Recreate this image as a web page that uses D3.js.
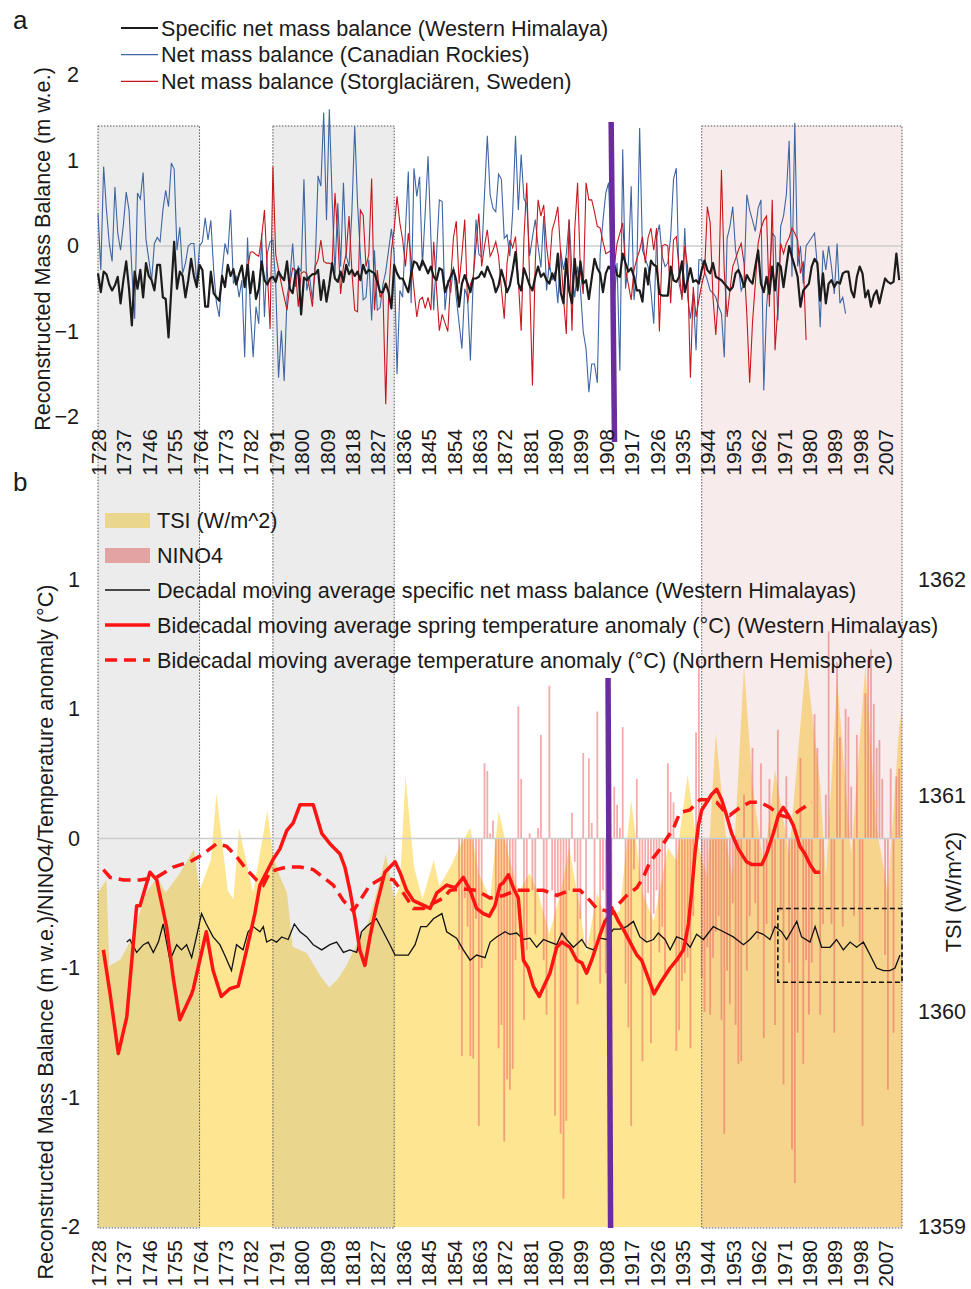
<!DOCTYPE html>
<html><head><meta charset="utf-8">
<script src="https://cdn.jsdelivr.net/npm/d3@7"></script>
<style>
body{margin:0;background:#fff}
svg{display:block}
text{font-family:"Liberation Sans",Arial,Helvetica,sans-serif;fill:#1a1a1a}
</style>
</head><body>
<svg id="c" width="971" height="1289"></svg>
<script>
// ---------------- DATA ----------------
const yearStart = 1728, yearEnd = 2013;
const xTickYears = d3.range(1728, 2008, 9);
const yTicksA = [-2, -1, 0, 1, 2];
const yTicksB = [-1.5, -1, -0.5, 0, 0.5, 1];
const yTicksTSI = [1359, 1360, 1361, 1362];

// Panel a: specific net mass balance, Western Himalaya (1728-2012)
const himStart = 1728;
const himVals = [
-0.32,-0.54,-0.30,-0.33,-0.45,-0.52,-0.46,-0.36,-0.67,-0.40,
-0.18,-0.50,-0.93,-0.30,-0.50,-0.28,-0.60,-0.20,-0.35,-0.40,
-0.52,-0.22,-0.22,-0.60,-0.62,-1.07,-0.50,0.05,-0.50,-0.30,
-0.35,-0.60,-0.40,-0.15,-0.35,-0.48,-0.22,-0.28,-0.71,-0.71,
-0.30,-0.55,-0.60,-0.64,-0.35,-0.48,-0.22,-0.35,-0.27,-0.45,
-0.33,-0.23,-0.48,-0.22,-0.55,-0.30,-0.62,-0.50,-0.18,-0.40,
-0.45,-0.38,-0.36,-0.42,-0.30,-0.36,-0.40,-0.18,-0.50,-0.55,
-0.33,-0.27,-0.80,-0.37,-0.40,-0.36,-0.33,-0.33,-0.28,-0.63,
-0.40,-0.65,-0.45,-0.20,-0.38,-0.42,-0.30,-0.42,-0.22,-0.33,
-0.28,-0.35,-0.30,-0.40,-0.22,-0.32,-0.28,-0.30,-0.32,-0.42,
-0.54,-0.54,-0.44,-0.54,-0.73,-0.22,-0.32,-0.38,-0.38,-0.46,
-0.54,-0.32,-0.18,-0.20,-0.28,-0.17,-0.24,-0.32,-0.24,-0.36,
-0.40,-0.26,-0.28,-0.54,-0.44,-0.36,-0.28,-0.40,-0.71,-0.44,
-0.34,-0.44,-0.54,-0.38,-0.38,-0.36,-0.30,-0.36,-0.24,-0.32,
-0.40,-0.54,-0.46,-0.28,-0.40,-0.54,-0.46,-0.28,-0.07,-0.44,
-0.52,-0.26,-0.36,-0.46,-0.52,-0.36,-0.24,-0.36,-0.32,-0.40,
-0.44,-0.32,-0.40,-0.09,-0.54,-0.67,-0.15,-0.52,-0.67,-0.15,
-0.52,-0.18,-0.44,-0.40,-0.62,-0.38,-0.15,-0.26,-0.32,-0.54,
-0.32,-0.24,-0.28,-0.22,-0.34,-0.36,-0.09,-0.20,-0.30,-0.26,
-0.36,-0.52,-0.52,-0.65,-0.26,-0.45,-0.17,-0.22,-0.24,-0.56,
-0.58,-0.58,-0.58,-0.24,-0.40,-0.42,-0.36,-0.18,-0.54,-0.40,
-0.26,-0.42,-0.40,-0.44,-0.28,-0.17,-0.28,-0.32,-0.20,-0.36,
-0.38,-0.40,-0.44,-0.48,-0.52,-0.48,-0.32,-0.28,-0.36,-0.48,
-0.34,-0.40,-0.44,-0.24,-0.05,-0.44,-0.54,-0.36,-0.56,-0.24,
-0.52,-0.20,-0.24,-0.48,-0.24,0.00,-0.13,-0.24,-0.36,-0.71,
-0.52,-0.48,-0.44,-0.24,-0.15,-0.20,-0.64,-0.32,-0.67,-0.44,
-0.40,-0.48,-0.42,-0.44,-0.32,-0.30,-0.30,-0.52,-0.60,-0.36,
-0.24,-0.32,-0.60,-0.52,-0.71,-0.58,-0.52,-0.67,-0.52,-0.38,
-0.42,-0.44,-0.42,-0.09,-0.40
];

// Panel a: net mass balance, Canadian Rockies (1728-1993)
const canStart = 1728;
const canVals = [
0.38,-0.28,0.93,0.42,0.03,-0.18,0.69,0.15,-0.05,0.25,
0.63,0.42,-0.28,-0.85,0.62,0.55,0.86,0.08,-0.16,-0.40,
0.03,0.10,0.05,0.42,0.65,0.46,0.97,0.90,-0.05,0.22,
-0.32,-0.20,0.00,0.03,0.03,-0.44,0.00,0.05,0.33,0.07,
0.30,-0.28,-0.67,-0.83,-0.30,0.03,-0.10,0.42,-0.44,-0.36,
-0.60,-0.40,-1.30,0.10,-0.75,-1.30,-0.71,-0.91,0.15,-0.83,
-0.09,0.05,0.07,-0.45,-1.54,-0.99,-1.58,-0.60,-0.40,0.03,
-0.48,-0.24,-0.30,0.78,-0.52,-0.36,-0.63,-0.20,0.82,0.70,
1.56,0.30,1.60,0.55,-0.32,0.50,-0.24,0.74,-0.12,-0.24,
0.40,1.40,0.50,-0.10,-0.63,-0.60,-0.16,-0.87,-0.05,-0.75,
-0.72,-0.45,-0.30,-0.05,0.20,-0.10,-1.50,-0.52,-0.60,0.20,
0.87,-0.67,0.91,0.58,0.81,-0.24,0.40,1.05,0.10,-0.75,
-0.10,0.54,0.52,-0.75,-0.40,-0.55,-0.24,-0.60,-0.90,-1.20,
-0.50,-0.60,-1.34,-0.40,0.31,-0.10,-0.13,0.60,1.29,0.60,
0.44,0.40,0.84,0.78,0.09,0.13,-0.12,0.40,1.29,0.42,
1.07,0.55,0.49,-0.12,0.10,0.31,0.00,-0.25,0.35,-0.52,
-0.20,-0.40,-0.30,-0.67,-0.05,-0.28,-0.10,0.31,-0.30,-0.60,
-0.24,-0.50,-1.00,-1.20,-1.71,-1.38,-1.38,-1.60,-0.10,0.30,
0.62,0.74,-0.20,-0.63,-0.20,-1.46,1.13,-0.50,-0.20,0.70,
-0.63,-0.30,1.38,-0.05,-0.15,-0.24,-0.52,-0.91,0.10,0.25,
-0.12,-0.24,-0.20,0.11,0.78,0.91,-0.44,-0.60,0.21,-0.60,
-0.85,-0.56,-1.22,-0.16,-0.16,-0.30,-0.40,-0.52,-0.55,-0.60,
-0.71,-0.79,-1.30,0.09,0.23,0.46,-0.05,-0.24,-0.52,-0.44,
0.60,0.42,0.30,0.17,0.44,0.54,-1.69,-0.71,-0.30,0.15,
0.11,-0.87,0.23,0.35,0.60,1.23,-0.36,1.44,-0.24,0.00,
-0.44,0.00,0.05,0.10,0.15,-0.24,-0.95,-0.05,-0.28,0.00,
-0.24,-0.56,0.03,-0.67,-0.60,-0.79
];

// Panel a: net mass balance, Storglaciären (1781-1979)
const stoStart = 1781;
const stoVals = [
-0.28,-0.07,-0.07,-0.10,-0.12,0.10,0.42,-0.28,-0.97,0.93,
-0.10,-0.28,-0.44,-0.60,-0.75,-0.45,-0.26,-0.28,-0.71,-0.32,
-0.30,-0.32,-0.50,-0.71,-0.24,-0.16,0.07,-0.18,-0.20,-0.20,
-0.22,0.62,0.11,-0.56,-0.24,-0.08,0.35,-0.30,-0.75,-0.77,
0.42,0.36,-0.24,-0.10,0.79,-0.75,-0.28,-0.60,-0.52,-1.85,
-0.60,-0.05,0.20,0.58,0.27,0.07,-0.24,0.15,-0.16,-0.50,
-0.83,-0.63,-0.60,-0.73,-0.60,-0.75,0.05,-0.50,-0.99,-0.80,
-0.90,-1.00,-0.40,0.10,0.29,-0.44,-0.10,0.31,-0.67,-0.45,
-0.36,0.00,0.38,-0.24,0.00,0.19,-0.12,-0.05,0.05,-0.12,
-0.50,-0.85,-0.20,0.07,-0.02,0.11,-0.40,-0.99,0.10,0.74,
-0.40,-1.63,-0.20,0.54,0.35,0.48,0.00,-0.28,0.19,0.30,
0.46,-0.09,-0.60,-1.03,0.31,-0.99,0.20,0.74,-0.30,-0.56,
0.74,0.54,0.54,0.40,0.23,0.21,0.05,-0.09,-0.07,-0.05,
-0.24,0.03,0.15,0.27,-0.28,-0.45,-0.63,-0.28,-0.15,-0.05,
0.11,-0.20,0.10,0.21,-0.05,0.21,-1.00,0.00,0.02,0.00,
-0.67,0.07,0.11,-0.28,-0.63,0.00,-0.24,-1.54,-0.48,-0.83,
-0.63,-0.45,-0.32,0.46,0.27,-0.60,-1.04,-0.52,0.89,-0.30,
-0.83,-0.52,-0.24,-0.15,-0.05,0.03,-0.20,-0.80,-1.60,-0.90,
-0.44,0.03,0.20,0.30,0.35,-0.71,0.54,-1.22,-0.71,0.03,
-0.09,0.03,0.10,0.21,0.15,0.07,-0.32,-0.18,-1.10
];

// Panel b: NINO4 (1856-2012)
const ninoStart = 1856;
const ninoVals = [
-0.43,-0.84,-0.23,-0.34,-0.84,-0.85,-0.31,-1.11,-0.50,0.29,
0.26,0.02,0.07,-0.24,-0.81,-0.72,-1.17,-0.93,-0.97,-0.89,
-0.47,0.51,0.23,-0.70,-0.43,0.02,-0.20,-0.37,0.04,0.40,
-0.47,-0.68,0.59,-0.20,-1.07,-0.23,-1.14,-1.39,-1.09,-0.20,
0.10,-0.09,-0.64,-0.31,0.33,-0.42,0.31,0.06,-0.45,0.49,
-0.56,-0.20,-0.52,-0.34,-0.30,0.20,0.13,0.04,0.43,-0.56,
-0.73,-1.11,-0.12,0.23,-0.18,-0.86,-0.40,-0.21,-0.79,-0.29,
-0.20,-0.44,-0.34,-0.54,0.29,0.18,0.14,-0.82,-0.74,-0.55,
-0.52,-0.46,-0.81,-0.30,0.41,0.69,-0.54,-0.67,-0.42,-0.68,
-0.46,-0.36,-0.30,-0.70,-1.14,-0.51,-0.64,-0.25,-0.72,-0.87,
-0.86,0.17,-0.51,-0.30,0.35,-0.25,-0.39,0.29,-0.77,-0.33,
0.23,-0.36,-0.72,0.42,-0.28,-0.95,0.24,-0.48,-1.20,-1.33,
-0.75,0.31,-0.87,-0.47,-0.68,-0.48,0.48,0.35,-0.68,-0.33,
0.17,0.80,-0.33,-0.75,0.68,0.39,-0.34,0.50,0.47,0.20,
-0.30,0.40,-0.40,-1.11,0.56,0.69,0.73,0.52,0.35,0.38,
0.23,-0.45,-0.97,0.27,-0.75,0.24,0.27
];

// Panel b: TSI (W/m^2) [year, value]
const tsiPts = [
[1728,1360.55],[1731,1360.61],[1732,1360.21],[1736,1360.24],[1740,1360.34],[1745,1360.55],
[1749,1360.62],[1752,1360.55],[1757,1360.64],[1762,1360.75],[1764,1360.56],[1768,1360.70],
[1770,1361.01],[1774,1360.56],[1776,1360.52],[1778,1360.85],[1781,1360.67],[1783,1360.55],
[1788,1360.93],[1790,1360.73],[1792,1360.64],[1795,1360.55],[1797,1360.30],[1802,1360.27],
[1807,1360.16],[1810,1360.11],[1813,1360.15],[1816,1360.21],[1820,1360.32],[1824,1360.42],
[1828,1360.61],[1830,1360.73],[1833,1360.52],[1835,1360.58],[1837,1361.09],[1840,1360.67],
[1843,1360.52],[1847,1360.70],[1849,1360.58],[1853,1360.67],[1856,1360.76],[1860,1360.85],
[1863,1360.64],[1867,1360.52],[1870,1360.93],[1874,1360.70],[1877,1360.55],[1881,1360.64],
[1884,1360.55],[1888,1360.36],[1892,1360.55],[1895,1360.76],[1899,1360.47],[1901,1360.27],
[1905,1360.55],[1908,1360.42],[1913,1360.47],[1917,1360.98],[1921,1360.55],[1925,1360.42],
[1930,1360.76],[1933,1360.70],[1937,1361.10],[1940,1360.80],[1944,1360.62],[1947,1361.29],
[1951,1360.76],[1953,1360.62],[1957,1361.60],[1960,1361.05],[1964,1360.67],[1968,1361.12],
[1973,1360.73],[1979,1361.63],[1984,1361.05],[1986,1360.62],[1990,1361.54],[1995,1360.73],
[2000,1361.60],[2004,1360.85],[2008,1360.55],[2012,1361.32],[2013,1361.40]
];

// Panel b: decadal moving average specific net mass balance (W. Himalayas) [year, value]
const decMB = [
[1738.2,-0.40],[1739.3,-0.39],[1741.7,-0.44],[1744.1,-0.41],[1745.8,-0.40],[1747.6,-0.44],
[1749.4,-0.40],[1751.1,-0.33],[1752.3,-0.40],[1753.5,-0.47],[1755.9,-0.41],[1757.6,-0.43],
[1759.4,-0.41],[1761.2,-0.46],[1762.9,-0.38],[1764.7,-0.29],[1766.4,-0.33],[1768.8,-0.38],
[1771.2,-0.41],[1772.9,-0.45],[1775.3,-0.51],[1777.1,-0.41],[1779.4,-0.43],[1781.2,-0.36],
[1783.0,-0.34],[1785.4,-0.36],[1786.6,-0.34],[1787.8,-0.40],[1789.5,-0.39],[1791.3,-0.40],
[1793.1,-0.38],[1795.4,-0.39],[1797.6,-0.33],[1799.6,-0.36],[1802.0,-0.38],[1804.3,-0.41],
[1807.3,-0.43],[1810.2,-0.41],[1812.6,-0.40],[1815.0,-0.44],[1817.3,-0.43],[1819.7,-0.44],
[1821.4,-0.36],[1823.2,-0.34],[1826.7,-0.31],[1829.1,-0.36],[1831.5,-0.41],[1833.3,-0.45],
[1835.6,-0.45],[1838.0,-0.45],[1840.4,-0.41],[1842.4,-0.34],[1844.5,-0.34],[1846.9,-0.31],
[1849.9,-0.29],[1851.6,-0.36],[1855.1,-0.385],[1857.5,-0.43],[1859.9,-0.47],[1862.2,-0.45],
[1865.2,-0.46],[1867.0,-0.40],[1869.3,-0.38],[1872.3,-0.36],[1874.0,-0.37],[1876.4,-0.365],
[1878.8,-0.39],[1881.1,-0.385],[1883.5,-0.42],[1885.9,-0.39],[1888.2,-0.40],[1890.6,-0.41],
[1892.4,-0.365],[1894.1,-0.39],[1896.5,-0.42],[1899.5,-0.39],[1901.2,-0.42],[1903.6,-0.43],
[1906.0,-0.385],[1908.3,-0.39],[1910.7,-0.35],[1913.0,-0.35],[1915.4,-0.34],[1917.8,-0.32],
[1920.1,-0.38],[1922.5,-0.40],[1924.9,-0.39],[1926.6,-0.365],[1929.0,-0.39],[1930.8,-0.43],
[1933.1,-0.38],[1935.5,-0.39],[1937.9,-0.42],[1940.2,-0.37],[1942.6,-0.39],[1946.1,-0.34],
[1949.7,-0.36],[1953.2,-0.38],[1956.8,-0.41],[1959.1,-0.39],[1961.5,-0.36],[1963.8,-0.37],
[1966.2,-0.39],[1968.0,-0.34],[1970.3,-0.36],[1972.1,-0.39],[1975.7,-0.32],[1977.4,-0.38],
[1980.4,-0.40],[1982.2,-0.34],[1984.5,-0.42],[1987.5,-0.42],[1989.8,-0.39],[1992.2,-0.43],
[1994.6,-0.40],[1996.9,-0.42],[1999.3,-0.40],[2001.7,-0.45],[2004.0,-0.50],[2006.4,-0.51],
[2008.7,-0.51],[2010.5,-0.50],[2012.3,-0.45]
];

// Panel b: bidecadal moving average spring temperature anomaly (W. Himalayas) [year, °C]
const springT = [
[1729.9,-0.43],[1732.3,-0.60],[1735.2,-0.83],[1738.2,-0.69],[1741.7,-0.26],[1742.9,-0.26],
[1746.4,-0.13],[1748.8,-0.16],[1752.3,-0.34],[1754.7,-0.54],[1757.0,-0.70],[1761.2,-0.60],
[1761.8,-0.58],[1764.1,-0.47],[1766.4,-0.36],[1768.8,-0.51],[1771.7,-0.61],[1774.7,-0.58],
[1777.7,-0.57],[1780.7,-0.43],[1783.6,-0.29],[1785.4,-0.18],[1787.8,-0.13],[1790.1,-0.08],
[1792.5,-0.04],[1794.9,0.03],[1797.2,0.06],[1799.6,0.13],[1804.3,0.13],[1807.3,0.02],
[1810.2,-0.02],[1813.8,-0.06],[1815.5,-0.11],[1817.3,-0.20],[1819.1,-0.31],[1820.8,-0.43],
[1822.6,-0.49],[1824.4,-0.38],[1826.7,-0.26],[1829.7,-0.13],[1833.3,-0.09],[1835.0,-0.13],
[1837.4,-0.20],[1839.8,-0.24],[1845.7,-0.27],[1848.1,-0.21],[1851.6,-0.18],[1854.6,-0.19],
[1857.5,-0.15],[1859.9,-0.20],[1862.2,-0.27],[1864.6,-0.29],[1866.7,-0.30],[1868.7,-0.26],
[1870.5,-0.18],[1871.7,-0.17],[1873.5,-0.14],[1875.2,-0.19],[1877.0,-0.23],[1878.8,-0.47],
[1880.5,-0.50],[1882.3,-0.57],[1884.4,-0.61],[1886.5,-0.56],[1888.2,-0.52],[1889.4,-0.47],
[1890.6,-0.42],[1892.4,-0.40],[1895.3,-0.42],[1897.7,-0.47],[1899.5,-0.48],[1901.2,-0.52],
[1903.0,-0.47],[1904.8,-0.41],[1906.0,-0.37],[1907.7,-0.32],[1910.7,-0.28],[1912.5,-0.32],
[1914.2,-0.35],[1916.6,-0.40],[1919.0,-0.45],[1920.7,-0.47],[1923.1,-0.54],[1925.1,-0.60],
[1927.2,-0.56],[1930.8,-0.50],[1933.1,-0.47],[1935.5,-0.43],[1936.1,-0.40],[1937.3,-0.33],
[1938.4,-0.21],[1939.6,-0.06],[1940.8,0.05],[1942.0,0.11],[1943.8,0.14],[1945.5,0.17],
[1947.3,0.19],[1949.1,0.15],[1950.8,0.09],[1952.6,0.02],[1955.0,-0.04],[1957.9,-0.09],
[1959.7,-0.10],[1963.3,-0.10],[1965.0,-0.06],[1967.4,0.02],[1969.2,0.09],[1970.9,0.12],
[1972.7,0.09],[1974.5,0.05],[1976.8,-0.03],[1978.6,-0.06],[1980.4,-0.10],[1982.2,-0.13],
[1983.9,-0.13]
];

// Panel b: bidecadal moving average temperature anomaly (Northern Hemisphere) [year, °C]
const nhT = [
[1729.9,-0.12],[1732.3,-0.15],[1737.0,-0.16],[1742.9,-0.16],[1748.8,-0.15],[1754.7,-0.11],
[1760.6,-0.09],[1765.3,-0.06],[1770.0,-0.02],[1773.6,-0.03],[1777.1,-0.07],[1780.7,-0.12],
[1784.2,-0.16],[1786.6,-0.18],[1788.9,-0.13],[1791.3,-0.12],[1794.9,-0.11],[1799.6,-0.11],
[1804.3,-0.12],[1807.9,-0.15],[1811.4,-0.18],[1815.0,-0.24],[1818.5,-0.28],[1820.8,-0.24],
[1824.4,-0.18],[1829.1,-0.15],[1832.7,-0.16],[1836.2,-0.21],[1839.8,-0.27],[1843.3,-0.27],
[1846.9,-0.25],[1850.4,-0.23],[1852.8,-0.20],[1857.5,-0.195],[1862.2,-0.20],[1867.0,-0.23],
[1871.7,-0.22],[1876.4,-0.20],[1881.1,-0.20],[1885.9,-0.20],[1890.6,-0.22],[1895.3,-0.20],
[1898.9,-0.20],[1902.4,-0.24],[1904.8,-0.27],[1908.3,-0.28],[1911.9,-0.26],[1915.4,-0.22],
[1919.0,-0.19],[1921.3,-0.15],[1923.7,-0.09],[1926.6,-0.05],[1929.6,0.00],[1932.0,0.04],
[1934.3,0.10],[1937.8,0.11],[1941.4,0.15],[1943.8,0.15],[1947.3,0.14],[1949.7,0.11],
[1952.0,0.09],[1955.6,0.12],[1959.1,0.14],[1962.7,0.14],[1966.2,0.12],[1969.7,0.09],
[1973.3,0.08],[1976.8,0.11],[1981.0,0.14]
];

// Shaded periods [startYear, endYear, kind]
const periods = [[1728, 1764, 'gray'], [1790, 1833, 'gray'], [1942, 2013, 'pink']];
// Purple marker years [top, bottom] per panel
const markerA = [1909.9, 1911.1];
const markerB = [1908.8, 1909.7];
// Dashed highlight box, panel b: years and values
const hiliteYears = [1969, 2013];
const hiliteVals = [-0.27, -0.555];

// ---------------- DRAW ----------------
const svg = d3.select('#c');
const x = d3.scaleLinear().domain([yearStart, yearEnd]).range([98, 902]);
const yA = d3.scaleLinear().domain([-2, 2]).range([417, 75]);
const yB = d3.scaleLinear().domain([-1.5, 1.5]).range([1227, 450]);
const yT = d3.scaleLinear().domain([1359, 1362]).range([1227, 580]);

const TSI_COL = '#fee591';
const NINO_COL = 'rgba(238,100,100,0.55)';
const RED_B = '#ff1414';
const FS = 21.6;

// TSI area
svg.append('path').datum(tsiPts)
  .attr('d', d3.area().x(d => x(d[0])).y0(yT(1359)).y1(d => yT(d[1])))
  .attr('fill', TSI_COL);

// NINO4 bars
svg.append('g').selectAll('rect').data(ninoVals.map((v, i) => [ninoStart + i, v])).join('rect')
  .attr('x', d => x(d[0]) - 0.9).attr('width', 1.8)
  .attr('y', d => Math.min(yB(0), yB(d[1])))
  .attr('height', d => Math.abs(yB(d[1]) - yB(0)))
  .attr('fill', NINO_COL);

// legend swatches panel b (under the shading)
const legB = svg.append('g');
legB.append('rect').attr('x', 105).attr('y', 513).attr('width', 45).attr('height', 15).attr('fill', TSI_COL);
legB.append('rect').attr('x', 105).attr('y', 548).attr('width', 45).attr('height', 15).attr('fill', NINO_COL);

// shaded periods
svg.append('g').selectAll('rect').data(periods).join('rect')
  .attr('x', d => x(d[0])).attr('width', d => x(d[1]) - x(d[0]))
  .attr('y', 126).attr('height', 1228 - 126)
  .attr('fill', d => d[2] === 'gray' ? 'rgba(128,128,128,0.15)' : 'rgba(205,110,110,0.14)')
  .attr('stroke', '#555').attr('stroke-width', 1).attr('stroke-dasharray', '1.5,1.5');

// zero lines
svg.append('line').attr('x1', x(yearStart)).attr('x2', x(yearEnd)).attr('y1', yA(0)).attr('y2', yA(0))
  .attr('stroke', '#cccccc').attr('stroke-width', 1.5);
svg.append('line').attr('x1', x(yearStart)).attr('x2', x(yearEnd)).attr('y1', yB(0)).attr('y2', yB(0))
  .attr('stroke', '#cccccc').attr('stroke-width', 1.5);

// panel a lines
const lineA = d3.line().x(d => x(d[0])).y(d => yA(d[1]));
const ser = (s, v) => v.map((d, i) => [s + i, d]);
svg.append('path').datum(ser(canStart, canVals)).attr('d', lineA)
  .attr('fill', 'none').attr('stroke', '#3d66a3').attr('stroke-width', 1.1);
svg.append('path').datum(ser(stoStart, stoVals)).attr('d', lineA)
  .attr('fill', 'none').attr('stroke', '#c8161e').attr('stroke-width', 1.1);
svg.append('path').datum(ser(himStart, himVals)).attr('d', lineA)
  .attr('fill', 'none').attr('stroke', '#1c1c1c').attr('stroke-width', 2.2).attr('stroke-linejoin', 'round');

// panel b lines
const lineB = d3.line().x(d => x(d[0])).y(d => yB(d[1]));
svg.append('path').datum(decMB).attr('d', lineB)
  .attr('fill', 'none').attr('stroke', '#111').attr('stroke-width', 1.3);
svg.append('path').datum(springT).attr('d', lineB)
  .attr('fill', 'none').attr('stroke', RED_B).attr('stroke-width', 3.5).attr('stroke-linejoin', 'round');
svg.append('path').datum(nhT).attr('d', lineB)
  .attr('fill', 'none').attr('stroke', RED_B).attr('stroke-width', 3.5).attr('stroke-dasharray', '12,7');

// dashed highlight box
svg.append('rect').attr('x', x(hiliteYears[0])).attr('width', x(hiliteYears[1]) - x(hiliteYears[0]))
  .attr('y', yB(hiliteVals[0])).attr('height', yB(hiliteVals[1]) - yB(hiliteVals[0]))
  .attr('fill', 'none').attr('stroke', '#111').attr('stroke-width', 1.6).attr('stroke-dasharray', '5,3');

// purple markers
svg.append('line').attr('x1', x(markerA[0])).attr('x2', x(markerA[1])).attr('y1', 122).attr('y2', 442)
  .attr('stroke', '#6a2c9f').attr('stroke-width', 5.5);
svg.append('line').attr('x1', x(markerB[0])).attr('x2', x(markerB[1])).attr('y1', 678).attr('y2', 1228)
  .attr('stroke', '#6a2c9f').attr('stroke-width', 5.5);

// axes
function styleAxis(g) {
  g.select('.domain').remove();
  g.selectAll('.tick line').remove();
  g.selectAll('text').attr('font-size', FS).attr('fill', '#1a1a1a')
    .style('font-family', '"Liberation Sans",Arial,sans-serif');
}
svg.append('g').attr('transform', 'translate(98,0)')
  .call(d3.axisLeft(yA).tickValues(yTicksA).tickSize(0).tickPadding(19).tickFormat(d3.format('d')))
  .call(styleAxis);
const excelRound = d => { const r = Math.sign(d) * Math.round(Math.abs(d)); return r === 0 ? '0' : String(r); };
svg.append('g').attr('transform', 'translate(98,0)')
  .call(d3.axisLeft(yB).tickValues(yTicksB).tickSize(0).tickPadding(18).tickFormat(excelRound))
  .call(styleAxis);
svg.append('g').attr('transform', 'translate(902,0)')
  .call(d3.axisRight(yT).tickValues(yTicksTSI).tickSize(0).tickPadding(16).tickFormat(d3.format('d')))
  .call(styleAxis);

function xAxis(yTop) {
  const g = svg.append('g').attr('transform', `translate(0,${yTop})`)
    .call(d3.axisBottom(x).tickValues(xTickYears).tickSize(0).tickFormat(d3.format('d')));
  g.select('.domain').remove();
  g.selectAll('text').attr('y', 0).attr('x', 0).attr('dy', '0.36em')
    .attr('transform', 'rotate(-90)').attr('text-anchor', 'end')
    .attr('font-size', 21).attr('fill', '#1a1a1a')
    .style('font-family', '"Liberation Sans",Arial,sans-serif');
}
xAxis(429);
xAxis(1240);

// axis titles
svg.append('text').attr('transform', 'translate(42,249) rotate(-90)').attr('text-anchor', 'middle')
  .attr('dy', '0.36em').attr('font-size', FS).text('Reconstructed Mass Balance (m w.e.)');
svg.append('text').attr('transform', 'translate(45,932) rotate(-90)').attr('text-anchor', 'middle')
  .attr('dy', '0.36em').attr('font-size', FS).text('Reconstructed Mass Balance (m w.e.)/NINO4/Temperature anomaly (°C)');
svg.append('text').attr('transform', 'translate(953,892) rotate(-90)').attr('text-anchor', 'middle')
  .attr('dy', '0.36em').attr('font-size', FS).text('TSI (W/m^2)');

// panel letters
svg.append('text').attr('x', 13).attr('y', 29).attr('font-size', 26).text('a');
svg.append('text').attr('x', 13).attr('y', 491).attr('font-size', 26).text('b');

// legend a
const legA = [
  ['Specific net mass balance (Western Himalaya)', '#1c1c1c', 2.2],
  ['Net mass balance (Canadian Rockies)', '#3d66a3', 1.2],
  ['Net mass balance (Storglaciären, Sweden)', '#c8161e', 1.2]
];
legA.forEach((d, i) => {
  const yy = 28 + i * 26.7;
  svg.append('line').attr('x1', 121).attr('x2', 158).attr('y1', yy).attr('y2', yy)
    .attr('stroke', d[1]).attr('stroke-width', d[2]);
  svg.append('text').attr('x', 161).attr('y', yy + 7.5).attr('font-size', FS).text(d[0]);
});

// legend b
const legBItems = [
  ['TSI (W/m^2)', 520, null],
  ['NINO4', 555, null],
  ['Decadal moving average specific net mass balance (Western Himalayas)', 590, ['#111', 1.3, null]],
  ['Bidecadal moving average spring temperature anomaly (°C) (Western Himalayas)', 625, [RED_B, 3.5, null]],
  ['Bidecadal moving average temperature anomaly (°C) (Northern Hemisphere)', 660, [RED_B, 3.5, '12,7']]
];
legBItems.forEach(d => {
  if (d[2]) {
    const l = svg.append('line').attr('x1', 105).attr('x2', 150).attr('y1', d[1]).attr('y2', d[1])
      .attr('stroke', d[2][0]).attr('stroke-width', d[2][1]);
    if (d[2][2]) l.attr('stroke-dasharray', d[2][2]);
  }
  svg.append('text').attr('x', 157).attr('y', d[1] + 7.5).attr('font-size', FS).text(d[0]);
});
</script>
</body></html>
